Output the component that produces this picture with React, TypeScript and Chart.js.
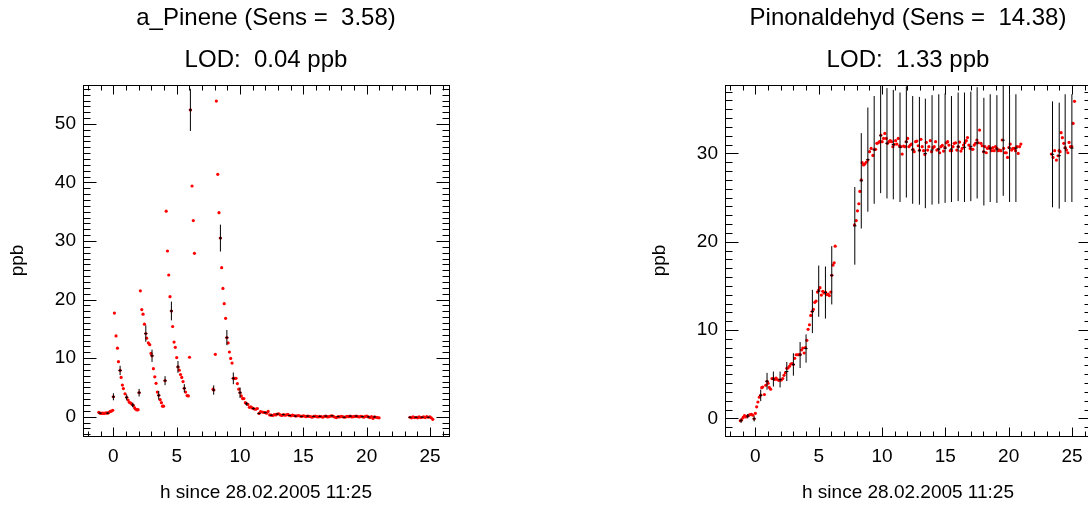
import React, { useEffect, useRef } from "react";
import { Chart, registerables } from "chart.js";

Chart.register(...registerables);

const FONT = "'Liberation Sans', Arial, Helvetica, sans-serif";

const A_TITLE = "a_Pinene (Sens =  3.58)";
const A_LOD = "LOD:  0.04 ppb";
const B_TITLE = "Pinonaldehyd (Sens =  14.38)";
const B_LOD = "LOD:  1.33 ppb";
const X_LABEL = "h since 28.02.2005 11:25";
const Y_LABEL = "ppb";

const X_RANGE = [-2.4, 26.5];
const A_Y_RANGE = [-3.3, 56.65];
const B_Y_RANGE = [-2.0, 37.75];
const X_TICKS = [0, 5, 10, 15, 20, 25];
const A_Y_TICKS = [0, 10, 20, 30, 40, 50];
const B_Y_TICKS = [0, 10, 20, 30];
const X_TICK_STEP = 5;
const Y_TICK_STEP = 10;

// a_Pinene: red measurement points [h, ppb]
const A_POINTS_1: [number, number][] = [
  [-1.15, 0.75], [-1.05, 0.6], [-0.95, 0.55], [-0.85, 0.6], [-0.75, 0.55], [-0.65, 0.6], [-0.55, 0.65],
  [-0.45, 0.6], [-0.35, 0.75], [-0.25, 0.9], [-0.15, 0.95], [-0.05, 1.1], [0.0, 3.4], [0.08, 17.7],
  [0.21, 13.8], [0.32, 11.7], [0.4, 9.4], [0.53, 7.9], [0.61, 6.7], [0.71, 5.4], [0.79, 4.8], [0.92, 3.9],
  [1.05, 3.3], [1.16, 2.85], [1.26, 2.45], [1.37, 2.3], [1.48, 2.1], [1.58, 1.9], [1.68, 1.5], [1.77, 1.25],
  [1.87, 1.15], [1.95, 1.2], [2.03, 4.1], [2.13, 21.5], [2.24, 18.3], [2.34, 17.5], [2.45, 15.8],
  [2.56, 14.2], [2.63, 13.4], [2.76, 12.6], [2.87, 12.3], [2.97, 10.8], [3.05, 10.4], [3.16, 8.2],
  [3.27, 6.8], [3.37, 5.7], [3.47, 4.2], [3.58, 3.65], [3.69, 2.9], [3.79, 2.4], [3.88, 1.8], [3.96, 1.8],
  [4.08, 6.15], [4.17, 35.1], [4.27, 28.3], [4.37, 24.2], [4.47, 20.5], [4.58, 18.05], [4.68, 15.4],
  [4.79, 12.75], [4.89, 11.85], [5.0, 10.1], [5.1, 8.5], [5.2, 7.95], [5.3, 7.2], [5.4, 6.7], [5.5, 6.0],
  [5.6, 4.85], [5.7, 4.2], [5.82, 3.6], [5.92, 3.55], [6.01, 10.15], [6.08, 52.4], [6.21, 39.4],
  [6.31, 33.5], [6.4, 27.9], [7.87, 4.7], [7.92, 4.55], [8.05, 10.65], [8.13, 53.9], [8.24, 41.4],
  [8.34, 34.85], [8.45, 30.5], [8.55, 25.45], [8.65, 21.9], [8.75, 19.3], [8.86, 16.8], [8.96, 13.5],
  [9.06, 12.6], [9.16, 11.05], [9.26, 9.95], [9.37, 9.15], [9.47, 6.55], [9.58, 6.55], [9.68, 6.55],
  [9.79, 5.65], [9.9, 4.7], [10.0, 4.1], [10.1, 3.55], [10.2, 3.1], [10.3, 3.1], [10.42, 2.4], [10.52, 2.2],
  [10.62, 2.1], [10.74, 1.6], [10.85, 1.7], [10.95, 1.5], [11.05, 1.4], [11.15, 1.3], [11.27, 1.3],
  [11.37, 1.4], [11.5, 0.55],
];
const A_POINTS_2: [number, number][] = [
  [11.62, 0.85], [11.74, 0.8], [11.86, 0.75], [11.98, 0.7], [12.1, 0.6], [12.22, 0.9], [12.34, 0.3],
  [12.46, 0.25], [12.58, 0.2], [12.7, 0.35], [12.82, 0.3], [12.94, 0.45], [13.06, 0.5], [13.18, 0.3],
  [13.3, 0.2], [13.42, 0.35], [13.54, 0.25], [13.66, 0.3], [13.78, 0.4], [13.9, 0.2], [14.02, 0.15],
  [14.14, 0.25], [14.26, 0.2], [14.38, 0.1], [14.5, 0.15], [14.62, 0.2], [14.74, 0.1], [14.86, 0.05],
  [14.98, 0.15], [15.1, 0.1], [15.22, 0.0], [15.34, 0.1], [15.46, 0.05], [15.58, 0.0], [15.7, -0.1],
  [15.82, 0.05], [15.94, 0.1], [16.06, 0.0], [16.18, -0.05], [16.3, 0.05], [16.42, 0.0], [16.54, -0.1],
  [16.66, 0.05], [16.78, 0.1], [16.9, -0.05], [17.02, 0.0], [17.14, 0.1], [17.26, 0.15], [17.38, 0.05],
  [17.5, -0.1], [17.62, -0.15], [17.74, 0.0], [17.86, -0.05], [17.98, 0.05], [18.1, 0.0], [18.22, -0.1],
  [18.34, -0.05], [18.46, 0.05], [18.58, 0.0], [18.7, 0.1], [18.82, -0.05], [18.94, 0.0], [19.06, 0.05],
  [19.18, 0.1], [19.3, 0.0], [19.42, -0.05], [19.54, 0.05], [19.66, 0.0], [19.78, -0.1], [19.9, 0.05],
  [20.02, 0.1], [20.14, -0.05], [20.26, -0.15], [20.38, 0.0], [20.5, -0.3], [20.62, -0.05], [20.74, -0.1],
  [20.86, -0.15], [20.98, -0.2],
];
const A_POINTS_3: [number, number][] = [
  [23.42, -0.1], [23.54, -0.2], [23.66, -0.05], [23.78, -0.15], [23.9, -0.1], [24.02, -0.2], [24.14, -0.05],
  [24.26, -0.15], [24.38, -0.1], [24.5, -0.05], [24.62, -0.15], [24.74, 0.0], [24.86, -0.1], [24.98, -0.05],
  [25.1, -0.2], [25.22, -0.45],
];
// a_Pinene: averaged points with error [h, ppb, ±ppb]
const A_ERRORS: [number, number, number][] = [
  [-1.05, 0.6, 0.15], [-0.45, 0.6, 0.15], [0.0, 3.4, 0.6], [0.53, 7.9, 0.8], [1.05, 3.3, 0.5],
  [1.53, 2.0, 0.4], [2.03, 4.1, 0.65], [2.56, 14.2, 1.4], [3.05, 10.4, 1.05], [3.58, 3.65, 0.75],
  [4.08, 6.15, 0.77], [4.58, 18.05, 1.6], [5.1, 8.5, 1.0], [5.6, 4.85, 0.7], [6.08, 52.4, 3.6],
  [7.92, 4.55, 0.8], [8.45, 30.5, 2.3], [8.96, 13.5, 1.3], [9.47, 6.55, 1.0], [10.0, 4.1, 0.9],
  [10.52, 2.2, 0.3], [11.05, 1.4, 0.2], [11.5, 0.55, 0.15], [11.98, 0.7, 0.15], [12.46, 0.25, 0.1],
  [12.94, 0.45, 0.1], [13.42, 0.35, 0.1], [13.9, 0.2, 0.1], [14.38, 0.1, 0.1], [14.86, 0.05, 0.1],
  [15.34, 0.1, 0.1], [15.82, 0.05, 0.1], [16.3, 0.05, 0.1], [16.78, 0.1, 0.1], [17.26, 0.15, 0.1],
  [17.74, 0.0, 0.1], [18.22, -0.1, 0.1], [18.7, 0.1, 0.1], [19.18, 0.1, 0.1], [19.66, 0.0, 0.1],
  [20.14, -0.05, 0.1], [20.62, -0.05, 0.1], [23.42, -0.1, 0.1], [23.9, -0.1, 0.1], [24.38, -0.1, 0.1],
  [24.86, -0.1, 0.1],
];

// Pinonaldehyd: red measurement points [h, ppb]
const B_POINTS_1: [number, number][] = [
  [-1.19, -0.27], [-1.08, -0.15], [-0.97, 0.1], [-0.86, 0.3], [-0.75, 0.15], [-0.64, 0.25], [-0.53, 0.35],
  [-0.42, 0.41], [-0.31, 0.45], [-0.2, 0.35], [-0.1, -0.05], [0.0, 0.57], [0.1, 1.3], [0.2, 1.85],
  [0.31, 2.4], [0.42, 2.64], [0.5, 3.47], [0.58, 3.55], [0.71, 2.7], [0.82, 3.75], [0.92, 4.2], [1.0, 3.96],
  [1.1, 3.5], [1.2, 3.3], [1.31, 4.5], [1.42, 4.5], [1.52, 4.4], [1.63, 4.56], [1.73, 4.4], [1.84, 4.3],
  [1.95, 4.34], [2.05, 4.35], [2.16, 4.5], [2.26, 4.87], [2.37, 5.17], [2.48, 5.66], [2.58, 5.7],
  [2.69, 5.9], [2.79, 6.15], [2.9, 6.2], [3.0, 6.1], [3.1, 6.8], [3.22, 7.2], [3.32, 7.2], [3.43, 7.2],
  [3.53, 7.25], [3.64, 7.74], [3.74, 7.96], [3.85, 7.4], [3.95, 8.0], [4.06, 8.83], [4.16, 10.08],
  [4.27, 10.6], [4.37, 11.66], [4.48, 12.1], [4.58, 12.35], [4.69, 13.14], [4.79, 13.28], [4.9, 14.3],
  [5.0, 14.53], [5.1, 14.8], [5.21, 13.96], [5.32, 14.38], [5.42, 14.2], [5.53, 14.3], [5.63, 14.0],
  [5.74, 14.08], [5.84, 13.9], [5.95, 14.3], [6.03, 16.2], [6.13, 17.36], [6.22, 17.62], [6.3, 19.5],
  [7.83, 21.9], [7.96, 22.4], [8.06, 23.5], [8.17, 24.3], [8.25, 25.7], [8.36, 27.0],
];
const B_POINTS_2: [number, number][] = [
  [8.43, 28.95], [8.54, 28.7], [8.64, 28.8], [8.75, 29.0], [8.88, 29.25], [9.01, 30.2], [9.14, 30.57],
  [9.28, 29.78], [9.41, 30.46], [9.49, 30.46], [9.59, 31.14], [9.7, 31.2], [9.8, 31.33], [9.91, 32.08],
  [10.01, 31.33], [10.12, 31.7], [10.22, 32.27], [10.33, 31.7], [10.43, 31.14], [10.54, 31.33],
  [10.65, 31.44], [10.75, 31.33], [10.86, 30.76], [10.96, 31.02], [11.07, 31.44], [11.17, 31.06],
  [11.28, 31.7], [11.38, 30.87], [11.49, 30.76], [11.59, 29.93], [11.7, 30.83], [11.81, 30.76],
  [11.91, 31.33], [12.02, 31.7], [12.12, 30.76], [12.23, 30.95], [12.33, 31.06], [12.44, 30.46],
  [12.54, 30.2], [12.65, 31.33], [12.75, 31.4], [12.86, 30.87], [12.96, 30.38], [13.07, 31.6],
  [13.17, 30.76], [13.28, 30.31], [13.38, 29.89], [13.49, 31.25], [13.6, 30.38], [13.7, 30.76],
  [13.81, 31.44], [13.91, 30.2], [14.02, 30.65], [14.12, 30.76], [14.23, 31.33], [14.33, 30.38],
  [14.44, 30.46], [14.55, 30.08], [14.65, 30.76], [14.76, 30.91], [14.86, 30.27], [14.97, 30.68],
  [15.07, 31.21], [15.18, 31.33], [15.28, 30.95], [15.39, 30.31], [15.49, 30.31], [15.6, 30.76],
  [15.7, 31.14], [15.81, 31.21], [15.91, 30.38], [16.02, 30.76], [16.12, 31.29], [16.23, 30.27],
  [16.33, 30.57], [16.44, 30.95], [16.54, 31.21], [16.65, 31.44], [16.75, 31.8], [16.86, 30.95],
  [16.96, 30.57], [17.07, 30.5], [17.17, 30.46], [17.28, 30.95], [17.38, 31.14], [17.49, 31.52],
  [17.6, 31.21], [17.7, 32.65], [17.81, 31.14], [17.91, 30.87], [18.02, 30.2], [18.12, 30.76],
  [18.23, 30.08], [18.33, 30.57], [18.44, 30.76], [18.54, 30.57], [18.65, 30.31], [18.75, 30.65],
  [18.86, 30.31], [18.96, 30.76], [19.07, 30.57], [19.18, 30.31], [19.28, 30.38], [19.39, 30.31],
  [19.49, 31.52], [19.6, 30.57], [19.7, 30.08], [19.81, 30.08], [19.91, 29.55], [20.02, 30.68],
  [20.12, 31.06], [20.23, 30.38], [20.33, 30.57], [20.44, 30.57], [20.54, 30.31], [20.65, 30.76],
  [20.75, 30.0], [20.86, 30.76], [20.96, 31.06],
];
const B_POINTS_3: [number, number][] = [
  [23.37, 29.93], [23.5, 29.55], [23.63, 30.31], [23.77, 29.25], [23.9, 29.74], [23.98, 30.31],
  [24.06, 30.2], [24.14, 32.35], [24.24, 31.78], [24.35, 31.14], [24.46, 30.65], [24.56, 30.38],
  [24.67, 30.08], [24.77, 31.25], [24.88, 30.76], [24.98, 30.76], [25.09, 33.4], [25.2, 35.9],
];
// Pinonaldehyd: averaged points with error [h, ppb, ±ppb]
const B_ERRORS: [number, number, number][] = [
  [-1.13, -0.27, 0.25], [-0.6, 0.25, 0.25], [-0.1, -0.05, 0.3], [0.42, 2.6, 0.65], [0.92, 4.2, 0.95],
  [1.42, 4.45, 0.85], [1.95, 4.4, 0.9], [2.48, 5.3, 1.08], [3.0, 6.1, 1.27], [3.53, 7.17, 1.47],
  [4.0, 7.9, 1.6], [4.5, 12.1, 2.45], [5.0, 14.4, 2.9], [5.53, 14.25, 2.95], [6.03, 16.2, 3.3],
  [7.85, 21.8, 4.4], [8.36, 26.9, 5.4], [8.88, 29.3, 5.9], [9.38, 30.4, 6.1], [9.89, 32.0, 6.5],
  [10.39, 31.15, 6.25], [10.89, 31.0, 6.2], [11.42, 30.7, 6.2], [11.92, 31.3, 6.3], [12.42, 30.4, 6.1],
  [12.95, 30.3, 6.1], [13.42, 30.0, 6.2], [13.95, 30.4, 6.2], [14.48, 30.5, 6.2], [14.98, 30.6, 6.2],
  [15.48, 30.5, 6.0], [16.01, 30.75, 6.15], [16.51, 30.7, 6.2], [17.01, 30.8, 6.2], [17.51, 31.2, 6.3],
  [18.04, 30.2, 6.1], [18.54, 30.6, 6.1], [19.07, 30.5, 6.1], [19.57, 31.5, 6.3], [20.07, 30.6, 6.1],
  [20.57, 30.6, 6.1], [23.46, 29.9, 6.0], [23.99, 29.75, 6.0], [24.46, 30.6, 6.1], [24.99, 30.6, 6.1],
];

type Panel = {
  title: string;
  lod: string;
  yRange: number[];
  yTicks: number[];
  red: [number, number][];
  err: [number, number, number][];
  canvasLeft: number;
  canvasWidth: number;
  yAxisWidth: number;
  padRight: number;
};

const PANELS: Panel[] = [
  {
    title: A_TITLE, lod: A_LOD, yRange: A_Y_RANGE, yTicks: A_Y_TICKS,
    red: [...A_POINTS_1, ...A_POINTS_2, ...A_POINTS_3], err: A_ERRORS,
    canvasLeft: 0, canvasWidth: 544, yAxisWidth: 83, padRight: 95,
  },
  {
    title: B_TITLE, lod: B_LOD, yRange: B_Y_RANGE, yTicks: B_Y_TICKS,
    red: [...B_POINTS_1, ...B_POINTS_2, ...B_POINTS_3], err: B_ERRORS,
    canvasLeft: 544, canvasWidth: 560, yAxisWidth: 181, padRight: 13,
  },
];

const H = 506;

const decoPlugin = {
  id: "deco",
  afterDatasetsDraw(chart: any, _args: any, opts: any) {
    const { ctx, chartArea: a } = chart;
    const xs = chart.scales.x;
    const ys = chart.scales.y;
    ctx.save();
    ctx.beginPath();
    ctx.rect(a.left, a.top, a.right - a.left, a.bottom - a.top);
    ctx.clip();
    ctx.strokeStyle = "#000";
    ctx.lineWidth = 1;
    const ds = chart.data.datasets[1].data;
    (opts.err as number[][]).forEach((e, i) => {
      const p = ds[i];
      const px = xs.getPixelForValue(p.x);
      const y1 = ys.getPixelForValue(p.y + e[2]);
      const y2 = ys.getPixelForValue(p.y - e[2]);
      ctx.beginPath();
      ctx.moveTo(px, y1);
      ctx.lineTo(px, y2);
      ctx.stroke();
    });
    ctx.restore();
  },
  afterDraw(chart: any, _args: any, opts: any) {
    const { ctx, chartArea: a } = chart;
    const xs = chart.scales.x;
    const ys = chart.scales.y;
    ctx.save();
    ctx.strokeStyle = "#000";
    ctx.lineWidth = 1;
    const L = Math.round(a.left) + 0.5;
    const R = Math.round(a.right) + 0.5;
    const T = Math.round(a.top) + 0.5;
    const B = Math.round(a.bottom) + 0.5;
    ctx.strokeRect(L, T, R - L, B - T);
    ctx.beginPath();
    for (let v = Math.ceil(xs.min); v <= xs.max; v++) {
      const px = Math.round(xs.getPixelForValue(v)) + 0.5;
      const len = v % X_TICK_STEP === 0 ? 9 : 5;
      ctx.moveTo(px, B); ctx.lineTo(px, B - len);
      ctx.moveTo(px, T); ctx.lineTo(px, T + len);
    }
    for (let v = Math.ceil(ys.min); v <= ys.max; v++) {
      const py = Math.round(ys.getPixelForValue(v)) + 0.5;
      const len = v % Y_TICK_STEP === 0 ? 13 : 7;
      ctx.moveTo(L, py); ctx.lineTo(L + len, py);
      ctx.moveTo(R, py); ctx.lineTo(R - len, py);
    }
    ctx.stroke();

    const cx = (a.left + a.right) / 2;
    const cy = (a.top + a.bottom) / 2;
    ctx.fillStyle = "#000";
    ctx.textAlign = "center";
    ctx.textBaseline = "middle";
    ctx.font = `24px ${FONT}`;
    ctx.fillText(opts.title, cx, 18);
    ctx.fillText(opts.lod, cx, 60);
    ctx.font = `19px ${FONT}`;
    ctx.fillText(X_LABEL, cx, 493);
    ctx.translate(a.left - 65, cy);
    ctx.rotate(-Math.PI / 2);
    ctx.fillText(Y_LABEL, 0, 0);
    ctx.restore();
  },
};

function ChartPanel({ panel }: { panel: Panel }) {
  const ref = useRef<HTMLCanvasElement | null>(null);
  useEffect(() => {
    if (!ref.current) return;
    const chart = new Chart(ref.current, {
      type: "scatter",
      data: {
        datasets: [
          {
            data: panel.red.map(([x, y]) => ({ x, y })),
            pointStyle: "circle",
            pointRadius: 1.6,
            pointBackgroundColor: "#ff0000",
            pointBorderWidth: 0,
            showLine: false,
            order: 1,
          },
          {
            data: panel.err.map(([x, y]) => ({ x, y })),
            pointStyle: "line",
            pointRadius: 1.6,
            pointBorderColor: "#000000",
            pointBorderWidth: 1,
            showLine: false,
            order: 0,
          },
        ],
      } as any,
      options: {
        animation: false,
        responsive: false,
        devicePixelRatio: 1,
        events: [],
        layout: { padding: { left: 0, right: panel.padRight, top: 85, bottom: 0 } },
        plugins: {
          legend: { display: false },
          tooltip: { enabled: false },
          deco: { title: panel.title, lod: panel.lod, err: panel.err },
        } as any,
        scales: {
          x: {
            type: "linear",
            min: X_RANGE[0],
            max: X_RANGE[1],
            grid: { display: false, drawTicks: false },
            border: { display: false },
            afterBuildTicks: (s: any) => { s.ticks = X_TICKS.map((v) => ({ value: v })); },
            ticks: {
              autoSkip: false,
              maxRotation: 0,
              padding: 9,
              color: "#000",
              font: { family: FONT, size: 19 },
            },
            afterFit: (s: any) => { s.height = 70; },
          },
          y: {
            type: "linear",
            min: panel.yRange[0],
            max: panel.yRange[1],
            grid: { display: false, drawTicks: false },
            border: { display: false },
            afterBuildTicks: (s: any) => { s.ticks = panel.yTicks.map((v) => ({ value: v })); },
            ticks: {
              autoSkip: false,
              padding: 7,
              color: "#000",
              font: { family: FONT, size: 19 },
            },
            afterFit: (s: any) => { s.width = panel.yAxisWidth; },
          },
        },
      } as any,
      plugins: [decoPlugin],
    });
    return () => chart.destroy();
  }, [panel]);
  return (
    <canvas
      ref={ref}
      width={panel.canvasWidth}
      height={H}
      style={{ position: "absolute", left: panel.canvasLeft, top: 0, width: panel.canvasWidth, height: H }}
    />
  );
}

export default function App() {
  return (
    <div style={{ position: "fixed", left: 0, top: 0, width: 1088, height: H, overflow: "hidden", background: "#fff" }}>
      {PANELS.map((p, i) => (
        <ChartPanel key={i} panel={p} />
      ))}
    </div>
  );
}
